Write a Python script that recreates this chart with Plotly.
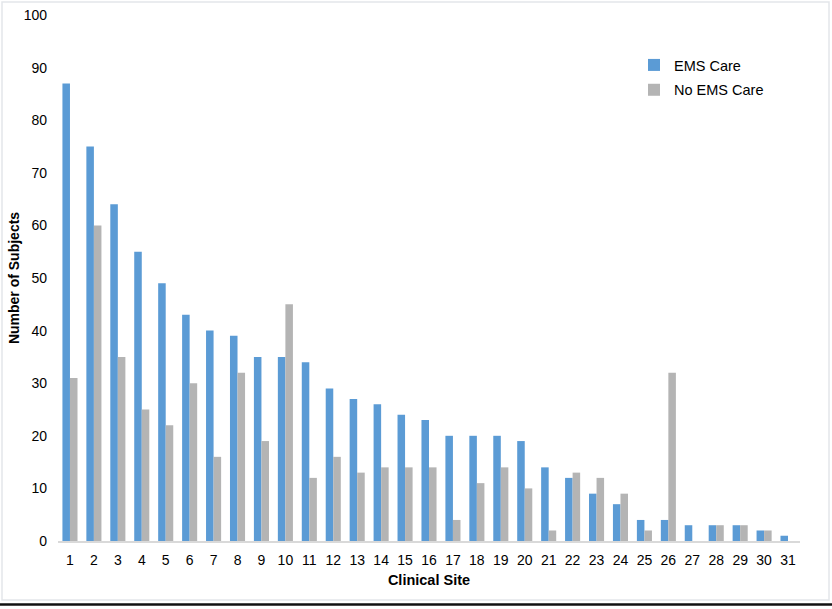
import plotly.graph_objects as go

sites = [str(i) for i in range(1, 32)]
ems_care = [87, 75, 64, 55, 49, 43, 40, 39, 35, 35, 34, 29, 27, 26, 24, 23, 20, 20, 20, 19,
            14, 12, 9, 7, 4, 4, 3, 3, 3, 2, 1]
no_ems_care = [31, 60, 35, 25, 22, 30, 16, 32, 19, 45, 12, 16, 13, 14, 14, 14, 4, 11, 14, 10,
               2, 13, 12, 9, 2, 32, 0, 3, 3, 2, 0]
y_ticks = list(range(0, 101, 10))

W, H = 832, 609
ML, MR, MT, MB = 58, 32, 15, 68
PW, PH = W - ML - MR, H - MT - MB


def px(x):
    return (x - ML) / PW


def py(y):
    return 1 - (y - MT) / PH


FONT = "Liberation Sans, Arial, sans-serif"

fig = go.Figure()
fig.add_trace(go.Bar(x=sites, y=ems_care, name="EMS Care", legendgroup="a",
                     marker=dict(color="#5B9BD5", line=dict(width=0))))
fig.add_trace(go.Bar(x=sites, y=no_ems_care, name="No EMS Care", legendgroup="b",
                     marker=dict(color="#B4B4B4", line=dict(width=0))))

shapes = [
    dict(type="rect", xref="paper", yref="paper",
         x0=px(2), x1=px(829), y0=py(600), y1=py(2),
         line=dict(color="#E3E6EA", width=1.5), layer="below"),
    dict(type="line", xref="paper", yref="paper",
         x0=px(0), x1=px(832), y0=py(604.5), y1=py(604.5),
         line=dict(color="#111111", width=2.5)),
]

fig.update_layout(
    width=W, height=H,
    margin=dict(l=ML, r=MR, t=MT, b=MB, autoexpand=False),
    paper_bgcolor="white", plot_bgcolor="white",
    barmode="group", bargap=0.37, bargroupgap=0,
    font=dict(family=FONT, size=14, color="#000000"),
    showlegend=True,
    legend=dict(x=px(634), y=py(49), xanchor="left", yanchor="top",
                font=dict(size=14.5, family=FONT), tracegroupgap=3,
                traceorder="grouped",
                itemsizing="constant", bgcolor="rgba(0,0,0,0)",
                itemwidth=30),
    xaxis=dict(type="category", range=[-0.5, 30.5], showgrid=False,
               showline=True, linecolor="#D9D9D9", linewidth=1.5,
               ticks="", ticklabelstandoff=5,
               tickfont=dict(size=14, family=FONT),
               title=dict(text="<b>Clinical Site</b>", font=dict(size=14.5, family=FONT),
                          standoff=8),
               automargin=False, fixedrange=True),
    yaxis=dict(range=[0, 100], tickvals=y_ticks, showgrid=False, zeroline=False,
               showline=False, ticks="", ticklabelstandoff=10,
               tickfont=dict(size=14, family=FONT),
               title=dict(text="<b>Number of Subjects</b>", font=dict(size=14, family=FONT),
                          standoff=0),
               automargin=False, fixedrange=True),
    shapes=shapes,
)

fig.write_html("out.html", config={"displayModeBar": False},
               post_script="document.body.style.margin='0';")
